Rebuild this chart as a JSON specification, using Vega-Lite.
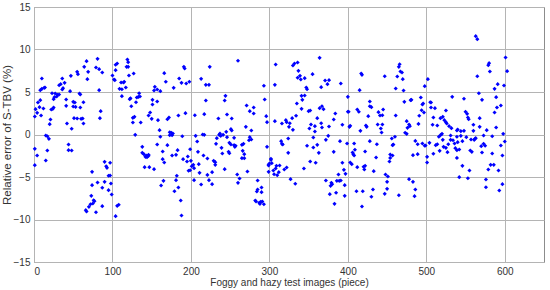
{
"$schema": "https://vega.github.io/schema/vega-lite/v6.json",
"width": 510, "height": 255,
"autosize": "none",
"padding": {"left": 34, "top": 7, "right": 6, "bottom": 28},
"background": "white",
"config": {
 "view": {"stroke": "#8c8c8c", "strokeWidth": 1},
 "axis": {"labelFont": "Liberation Sans", "labelFontSize": 10, "labelColor": "#333333", "titleFont": "Liberation Sans", "titleFontWeight": "normal", "titleColor": "#333333", "gridColor": "#b4b4b4", "gridOpacity": 1, "gridWidth": 1, "ticks": false, "domain": false}
},
"data": {"values": [
{"x":67,"y":8.63},{"x":81,"y":8.90},{"x":64,"y":7.96},{"x":79,"y":7.88},{"x":83,"y":7.69},{"x":87,"y":7.29},{"x":69,"y":7.37},{"x":55,"y":7.37},{"x":56,"y":7.10},{"x":47,"y":6.90},{"x":68,"y":6.51},{"x":36,"y":6.59},{"x":39,"y":6.08},{"x":34,"y":5.92},{"x":32,"y":5.80},{"x":10,"y":6.59},{"x":13,"y":5.49},{"x":10,"y":5.37},{"x":8,"y":5.22},{"x":14,"y":5.53},{"x":23,"y":4.86},{"x":27,"y":4.82},{"x":32,"y":4.71},{"x":29,"y":4.47},{"x":26,"y":4.39},{"x":25,"y":4.16},{"x":30,"y":4.67},{"x":36,"y":5.29},{"x":37,"y":5.45},{"x":46,"y":5.10},{"x":58,"y":4.82},{"x":59,"y":4.71},{"x":83,"y":5.22},{"x":106,"y":8.35},{"x":104,"y":8.20},{"x":100,"y":6.94},{"x":102,"y":6.47},{"x":109,"y":5.37},{"x":5,"y":3.76},{"x":8,"y":4.04},{"x":2,"y":2.98},{"x":7,"y":3.22},{"x":4,"y":2.55},{"x":12,"y":3.06},{"x":22,"y":2.94},{"x":24,"y":3.02},{"x":25,"y":3.18},{"x":41,"y":4.12},{"x":41,"y":3.37},{"x":50,"y":3.84},{"x":52,"y":3.76},{"x":50,"y":3.29},{"x":53,"y":3.25},{"x":59,"y":3.18},{"x":63,"y":3.80},{"x":85,"y":2.75},{"x":84,"y":1.92},{"x":1,"y":2.12},{"x":9,"y":2.24},{"x":21,"y":1.76},{"x":20,"y":1.22},{"x":42,"y":1.29},{"x":51,"y":1.92},{"x":55,"y":1.88},{"x":60,"y":1.84},{"x":62,"y":1.88},{"x":63,"y":1.29},{"x":48,"y":0.67},{"x":15,"y":-0.12},{"x":17,"y":-0.20},{"x":19,"y":-0.51},{"x":1,"y":-1.69},{"x":4,"y":-2.47},{"x":1,"y":-3.61},{"x":17,"y":-1.88},{"x":15,"y":-3.06},{"x":44,"y":-1.18},{"x":44,"y":-1.84},{"x":48,"y":-1.88},{"x":74,"y":-4.39},{"x":90,"y":-3.22},{"x":92,"y":-3.73},{"x":93,"y":-3.92},{"x":97,"y":-3.33},{"x":95,"y":-4.86},{"x":97,"y":-4.82},{"x":74,"y":-5.96},{"x":81,"y":-5.65},{"x":90,"y":-5.57},{"x":98,"y":-5.76},{"x":87,"y":-6.27},{"x":95,"y":-6.55},{"x":99,"y":-7.06},{"x":73,"y":-7.22},{"x":76,"y":-7.73},{"x":77,"y":-7.84},{"x":72,"y":-8.20},{"x":75,"y":-8.12},{"x":70,"y":-8.51},{"x":66,"y":-8.90},{"x":67,"y":-9.06},{"x":79,"y":-9.14},{"x":87,"y":-8.43},{"x":108,"y":-8.27},{"x":104,"y":-9.61},
{"x":104,"y":7.57},{"x":119,"y":8.82},{"x":120,"y":8.51},{"x":118,"y":7.96},{"x":120,"y":7.96},{"x":127,"y":7.18},{"x":121,"y":6.94},{"x":103,"y":6.39},{"x":111,"y":6.12},{"x":114,"y":6.12},{"x":115,"y":6.20},{"x":112,"y":5.33},{"x":117,"y":5.53},{"x":166,"y":7.22},{"x":168,"y":6.20},{"x":191,"y":7.96},{"x":192,"y":7.76},{"x":185,"y":6.59},{"x":188,"y":6.08},{"x":194,"y":6.00},{"x":198,"y":6.20},{"x":213,"y":6.55},{"x":178,"y":5.49},{"x":154,"y":5.61},{"x":157,"y":5.29},{"x":153,"y":5.18},{"x":161,"y":5.10},{"x":134,"y":4.86},{"x":133,"y":4.43},{"x":131,"y":4.35},{"x":135,"y":4.47},{"x":123,"y":4.27},{"x":122,"y":4.16},{"x":130,"y":3.80},{"x":112,"y":4.51},{"x":124,"y":3.33},{"x":151,"y":4.08},{"x":157,"y":3.88},{"x":151,"y":3.53},{"x":148,"y":2.59},{"x":146,"y":2.24},{"x":150,"y":1.84},{"x":128,"y":2.08},{"x":126,"y":1.96},{"x":126,"y":1.41},{"x":136,"y":1.41},{"x":158,"y":1.69},{"x":170,"y":1.80},{"x":172,"y":2.00},{"x":184,"y":2.24},{"x":193,"y":2.51},{"x":205,"y":2.27},{"x":217,"y":2.39},{"x":129,"y":-0.04},{"x":160,"y":0.51},{"x":161,"y":-0.27},{"x":173,"y":0.27},{"x":175,"y":0.20},{"x":173,"y":-0.08},{"x":176,"y":-0.08},{"x":177,"y":0.12},{"x":189,"y":-0.20},{"x":206,"y":-0.16},{"x":215,"y":0.00},{"x":217,"y":-0.04},{"x":208,"y":-0.82},{"x":138,"y":-1.45},{"x":138,"y":-2.16},{"x":140,"y":-2.31},{"x":142,"y":-2.63},{"x":143,"y":-2.47},{"x":144,"y":-2.67},{"x":146,"y":-2.51},{"x":146,"y":-2.39},{"x":157,"y":-1.18},{"x":170,"y":-1.25},{"x":164,"y":-2.00},{"x":176,"y":-2.47},{"x":183,"y":-1.84},{"x":181,"y":-2.39},{"x":164,"y":-2.90},{"x":166,"y":-3.29},{"x":190,"y":-2.90},{"x":196,"y":-2.59},{"x":195,"y":-3.18},{"x":199,"y":-1.73},{"x":200,"y":-3.10},{"x":203,"y":-3.57},{"x":201,"y":-3.73},{"x":204,"y":-3.96},{"x":199,"y":-4.20},{"x":197,"y":-4.27},{"x":209,"y":-2.04},{"x":216,"y":-2.47},{"x":210,"y":-3.49},{"x":211,"y":-4.51},{"x":204,"y":-5.37},{"x":213,"y":-5.88},{"x":141,"y":-3.84},{"x":147,"y":-3.84},{"x":153,"y":-4.08},{"x":182,"y":-4.86},{"x":181,"y":-5.37},{"x":165,"y":-5.45},{"x":162,"y":-6.00},{"x":184,"y":-6.24},{"x":179,"y":-6.67},{"x":187,"y":-7.76},{"x":188,"y":-9.53},{"x":106,"y":-8.39},
{"x":224,"y":7.96},{"x":260,"y":8.67},{"x":308,"y":8.24},{"x":307,"y":5.84},{"x":293,"y":5.73},{"x":219,"y":5.84},{"x":223,"y":5.84},{"x":244,"y":4.55},{"x":243,"y":4.00},{"x":219,"y":4.00},{"x":235,"y":1.88},{"x":246,"y":2.35},{"x":252,"y":1.88},{"x":271,"y":3.41},{"x":280,"y":3.18},{"x":275,"y":2.75},{"x":280,"y":2.47},{"x":294,"y":4.12},{"x":296,"y":2.16},{"x":297,"y":1.45},{"x":307,"y":1.57},{"x":316,"y":1.29},{"x":321,"y":1.69},{"x":322,"y":1.45},{"x":325,"y":0.90},{"x":237,"y":0.12},{"x":236,"y":-0.04},{"x":238,"y":-0.16},{"x":233,"y":-0.43},{"x":241,"y":-0.04},{"x":245,"y":0.31},{"x":251,"y":0.63},{"x":252,"y":0.47},{"x":246,"y":-0.31},{"x":255,"y":-0.39},{"x":249,"y":-0.98},{"x":255,"y":-1.25},{"x":256,"y":-1.45},{"x":257,"y":-1.33},{"x":251,"y":-1.18},{"x":265,"y":-1.22},{"x":267,"y":-1.10},{"x":275,"y":-0.31},{"x":274,"y":-0.67},{"x":277,"y":-0.59},{"x":277,"y":0.47},{"x":270,"y":0.90},{"x":232,"y":-1.10},{"x":239,"y":-1.57},{"x":240,"y":-2.24},{"x":248,"y":-2.04},{"x":249,"y":-2.20},{"x":266,"y":-1.92},{"x":268,"y":-2.31},{"x":265,"y":-2.78},{"x":268,"y":-2.78},{"x":297,"y":-1.45},{"x":315,"y":-0.78},{"x":316,"y":-1.10},{"x":317,"y":-1.18},{"x":324,"y":-0.47},{"x":221,"y":-2.82},{"x":229,"y":-3.10},{"x":231,"y":-3.25},{"x":231,"y":-3.57},{"x":221,"y":-4.75},{"x":223,"y":-5.37},{"x":227,"y":-4.43},{"x":227,"y":-5.84},{"x":243,"y":-4.08},{"x":259,"y":-4.71},{"x":262,"y":-5.18},{"x":260,"y":-5.69},{"x":272,"y":-4.35},{"x":285,"y":-5.41},{"x":290,"y":-6.24},{"x":285,"y":-6.47},{"x":284,"y":-6.71},{"x":290,"y":-6.78},{"x":282,"y":-7.76},{"x":283,"y":-7.88},{"x":287,"y":-8.04},{"x":291,"y":-7.88},{"x":293,"y":-8.20},{"x":288,"y":-8.16},{"x":289,"y":-7.92},{"x":302,"y":-2.98},{"x":302,"y":-2.86},{"x":300,"y":-3.41},{"x":299,"y":-3.57},{"x":299,"y":-3.65},{"x":303,"y":-3.37},{"x":309,"y":-3.69},{"x":313,"y":-3.65},{"x":308,"y":-4.00},{"x":305,"y":-4.24},{"x":306,"y":-4.67},{"x":310,"y":-4.78},{"x":312,"y":-4.43},{"x":299,"y":-4.39},{"x":319,"y":-4.12},{"x":322,"y":-3.88},
{"x":330,"y":8.12},{"x":332,"y":8.35},{"x":336,"y":8.47},{"x":337,"y":7.49},{"x":339,"y":6.90},{"x":336,"y":6.67},{"x":340,"y":6.47},{"x":345,"y":6.63},{"x":355,"y":7.10},{"x":364,"y":9.02},{"x":347,"y":5.53},{"x":348,"y":5.33},{"x":366,"y":5.57},{"x":371,"y":6.35},{"x":376,"y":6.39},{"x":374,"y":5.92},{"x":391,"y":6.00},{"x":417,"y":7.18},{"x":418,"y":7.02},{"x":415,"y":5.22},{"x":428,"y":3.88},{"x":428,"y":3.33},{"x":430,"y":3.22},{"x":400,"y":4.43},{"x":341,"y":4.55},{"x":345,"y":4.59},{"x":342,"y":4.08},{"x":335,"y":3.65},{"x":341,"y":3.02},{"x":350,"y":2.75},{"x":352,"y":2.82},{"x":364,"y":3.10},{"x":367,"y":3.33},{"x":369,"y":2.98},{"x":384,"y":2.47},{"x":400,"y":2.67},{"x":401,"y":2.67},{"x":412,"y":2.94},{"x":414,"y":2.67},{"x":426,"y":2.16},{"x":334,"y":2.20},{"x":329,"y":1.92},{"x":326,"y":1.33},{"x":330,"y":0.55},{"x":353,"y":1.18},{"x":351,"y":0.71},{"x":358,"y":0.98},{"x":361,"y":1.92},{"x":366,"y":1.33},{"x":367,"y":0.82},{"x":376,"y":0.94},{"x":382,"y":1.76},{"x":393,"y":1.14},{"x":402,"y":0.90},{"x":403,"y":1.02},{"x":416,"y":0.43},{"x":423,"y":1.06},{"x":424,"y":0.90},{"x":428,"y":-0.78},{"x":358,"y":0.35},{"x":356,"y":-0.35},{"x":348,"y":-1.33},{"x":356,"y":-1.53},{"x":361,"y":-1.22},{"x":363,"y":-2.16},{"x":375,"y":-0.16},{"x":372,"y":-0.63},{"x":382,"y":-2.04},{"x":390,"y":-0.78},{"x":399,"y":-1.06},{"x":408,"y":-1.06},{"x":409,"y":-1.80},{"x":406,"y":-2.12},{"x":407,"y":-2.31},{"x":408,"y":-2.47},{"x":422,"y":-2.00},{"x":352,"y":-3.18},{"x":359,"y":-3.33},{"x":344,"y":-4.00},{"x":324,"y":-2.16},{"x":327,"y":-5.25},{"x":333,"y":-5.80},{"x":372,"y":-5.41},{"x":379,"y":-5.69},{"x":380,"y":-5.84},{"x":378,"y":-6.04},{"x":386,"y":-5.45},{"x":389,"y":-5.45},{"x":391,"y":-5.41},{"x":396,"y":-5.96},{"x":393,"y":-3.33},{"x":395,"y":-4.16},{"x":397,"y":-4.63},{"x":388,"y":-4.71},{"x":403,"y":-3.29},{"x":405,"y":-3.49},{"x":412,"y":-3.84},{"x":420,"y":-3.80},{"x":422,"y":-3.69},{"x":421,"y":-4.12},{"x":433,"y":-4.31},{"x":377,"y":-7.02},{"x":385,"y":-6.86},{"x":383,"y":-8.16},{"x":396,"y":-7.22},{"x":411,"y":-6.67},{"x":419,"y":-6.67},{"x":432,"y":-6.47},{"x":430,"y":-7.33},{"x":418,"y":-8.47},
{"x":466,"y":8.27},{"x":465,"y":7.96},{"x":467,"y":7.41},{"x":469,"y":7.29},{"x":463,"y":6.82},{"x":470,"y":6.51},{"x":447,"y":6.86},{"x":461,"y":5.41},{"x":471,"y":5.18},{"x":502,"y":6.51},{"x":498,"y":5.69},{"x":533,"y":4.43},{"x":445,"y":2.94},{"x":439,"y":2.63},{"x":441,"y":2.24},{"x":444,"y":2.27},{"x":461,"y":2.24},{"x":472,"y":3.84},{"x":481,"y":4.08},{"x":480,"y":4.04},{"x":493,"y":4.35},{"x":496,"y":3.65},{"x":495,"y":3.53},{"x":494,"y":2.86},{"x":506,"y":3.76},{"x":506,"y":3.18},{"x":511,"y":3.10},{"x":505,"y":3.80},{"x":525,"y":2.82},{"x":497,"y":2.59},{"x":491,"y":2.20},{"x":509,"y":2.00},{"x":518,"y":1.92},{"x":521,"y":2.08},{"x":523,"y":1.69},{"x":525,"y":1.45},{"x":526,"y":1.29},{"x":529,"y":0.98},{"x":532,"y":0.75},{"x":539,"y":0.47},{"x":540,"y":0.59},{"x":438,"y":1.18},{"x":444,"y":1.18},{"x":442,"y":0.71},{"x":443,"y":0.24},{"x":475,"y":1.57},{"x":478,"y":1.18},{"x":476,"y":0.78},{"x":473,"y":0.20},{"x":475,"y":0.08},{"x":479,"y":0.98},{"x":490,"y":1.25},{"x":508,"y":1.14},{"x":514,"y":1.06},{"x":460,"y":-0.27},{"x":456,"y":-0.47},{"x":458,"y":-1.18},{"x":457,"y":-1.25},{"x":437,"y":-1.14},{"x":454,"y":-2.35},{"x":457,"y":-2.47},{"x":454,"y":-2.75},{"x":453,"y":-3.18},{"x":436,"y":-2.71},{"x":448,"y":-4.71},{"x":451,"y":-4.94},{"x":450,"y":-5.57},{"x":450,"y":-6.39},{"x":447,"y":-6.98},{"x":465,"y":-7.14},{"x":478,"y":-5.25},{"x":483,"y":-5.57},{"x":486,"y":-6.47},{"x":485,"y":-7.25},{"x":486,"y":-0.75},{"x":489,"y":-1.14},{"x":483,"y":-2.43},{"x":489,"y":-2.31},{"x":495,"y":-1.06},{"x":498,"y":-1.33},{"x":499,"y":-1.29},{"x":501,"y":-2.63},{"x":501,"y":-3.29},{"x":504,"y":-0.98},{"x":509,"y":-2.27},{"x":512,"y":-1.25},{"x":514,"y":-1.14},{"x":516,"y":-0.27},{"x":518,"y":-0.08},{"x":520,"y":0.08},{"x":517,"y":-1.92},{"x":522,"y":-1.45},{"x":521,"y":-0.63},{"x":525,"y":-1.57},{"x":527,"y":-2.08},{"x":528,"y":-1.14},{"x":531,"y":-0.12},{"x":531,"y":-0.63},{"x":534,"y":-0.67},{"x":536,"y":-1.06},{"x":537,"y":-1.61},{"x":539,"y":-0.27},{"x":539,"y":-1.84},{"x":540,"y":-0.90},{"x":542,"y":-1.76},{"x":539,"y":-2.75},
{"x":563,"y":11.57},{"x":565,"y":11.22},{"x":601,"y":9.06},{"x":603,"y":7.45},{"x":580,"y":8.39},{"x":579,"y":8.16},{"x":581,"y":7.41},{"x":565,"y":6.86},{"x":591,"y":5.92},{"x":599,"y":5.76},{"x":587,"y":5.37},{"x":567,"y":4.86},{"x":589,"y":4.39},{"x":571,"y":4.08},{"x":548,"y":4.20},{"x":595,"y":3.41},{"x":590,"y":3.18},{"x":587,"y":2.59},{"x":550,"y":2.67},{"x":552,"y":2.43},{"x":553,"y":2.00},{"x":554,"y":1.80},{"x":568,"y":1.92},{"x":560,"y":1.14},{"x":568,"y":0.90},{"x":589,"y":0.82},{"x":544,"y":0.39},{"x":548,"y":0.43},{"x":560,"y":0.43},{"x":577,"y":0.51},{"x":598,"y":0.08},{"x":544,"y":-0.16},{"x":551,"y":-0.31},{"x":557,"y":-0.59},{"x":561,"y":-0.63},{"x":562,"y":-0.51},{"x":563,"y":-0.43},{"x":573,"y":-0.12},{"x":584,"y":-0.20},{"x":600,"y":-0.82},{"x":595,"y":-1.29},{"x":546,"y":-0.78},{"x":570,"y":-1.37},{"x":573,"y":-1.10},{"x":575,"y":-1.33},{"x":556,"y":-1.88},{"x":558,"y":-2.04},{"x":571,"y":-2.12},{"x":584,"y":-2.24},{"x":597,"y":-2.47},{"x":546,"y":-3.69},{"x":555,"y":-4.24},{"x":579,"y":-4.12},{"x":582,"y":-3.57},{"x":586,"y":-3.57},{"x":592,"y":-4.24},{"x":542,"y":-5.02},{"x":553,"y":-5.14},{"x":576,"y":-5.29},{"x":576,"y":-6.20},{"x":597,"y":-5.84},{"x":593,"y":-6.59}
]},
"mark": {"type": "point", "filled": true, "shape": "diamond", "size": 17, "color": "#0000ff", "opacity": 1},
"encoding": {
 "x": {"field": "x", "type": "quantitative", "scale": {"domain": [0, 650], "nice": false, "zero": false},
   "axis": {"values": [0,100,200,300,400,500,600], "title": "Foggy and hazy test images (piece)", "titleFontSize": 10, "labelPadding": 4, "titlePadding": 1}},
 "y": {"field": "y", "type": "quantitative", "scale": {"domain": [-15, 15], "nice": false, "zero": false},
   "axis": {"values": [-15,-10,-5,0,5,10,15], "title": "Relative error of S-TBV (%)", "titleFontSize": 11.5, "labelPadding": 4, "titlePadding": 1}}
}
}
